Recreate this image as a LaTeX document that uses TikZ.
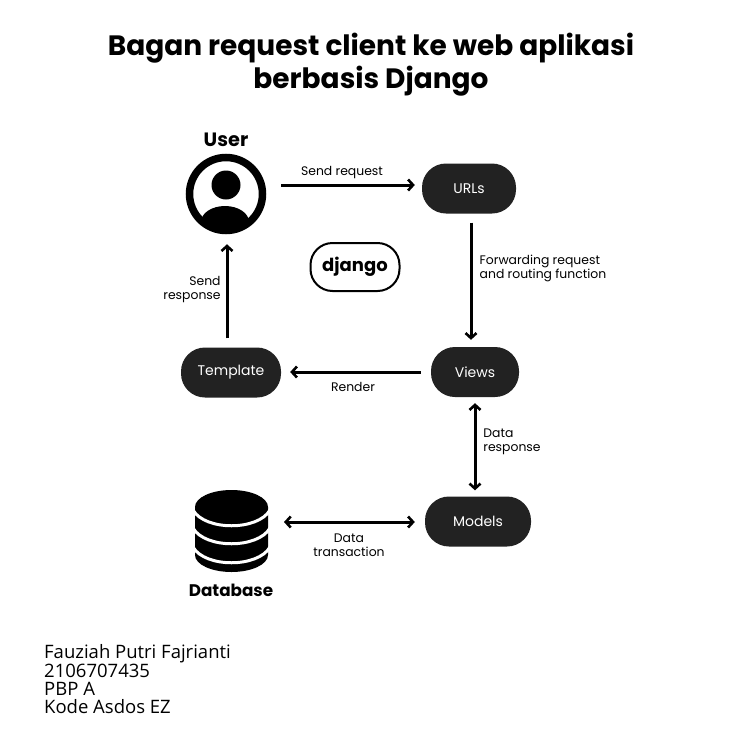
\documentclass[tikz,border=0pt]{standalone}
\usepackage{fontspec}
\setmainfont{Open Sans}
\newfontfamily\pop{Poppins}
\usetikzlibrary{arrows.meta,calc}
\definecolor{pill}{HTML}{222222}
\tikzset{
 pillbox/.style={draw=none,fill=pill,rounded corners=24pt,text=white,font=\pop\fontsize{14}{16}\selectfont,minimum height=50pt,inner sep=0pt},
 lab/.style={font=\pop\fontsize{12.4}{14}\selectfont,text=black,inner sep=0pt,align=center},
 head/.style={font=\pop\bfseries\fontsize{19.3}{22}\selectfont,text=black,inner sep=0pt},
 conn/.style={draw=black,line width=3pt,-{Straight Barb[length=5pt,width=11pt,line width=2.6pt]}},
 conn2/.style={draw=black,line width=3pt,{Straight Barb[length=5pt,width=11pt,line width=2.6pt]}-{Straight Barb[length=5pt,width=11pt,line width=2.6pt]}},
}
\begin{document}
\begin{tikzpicture}[x=1pt,y=-1pt]
\useasboundingbox[fill=white] (0,0) rectangle (750,750);
\node[font=\pop\bfseries\fontsize{28}{33}\selectfont,align=center,inner sep=0pt] (title) at (371,65) {Bagan request client ke web aplikasi\\berbasis Django};
\node[head] (userlabel) at (226,140) {User};
% user icon
\node[circle,draw=black,line width=7.5pt,minimum size=73pt,inner sep=0pt] (user) at (226,194) {};
\fill (226,185) circle (14.5pt);
\begin{scope}
\clip (226,194) circle (37pt);
\fill (225,222) ellipse (24pt and 16pt);
\fill (201,222) rectangle (249,240);
\end{scope}
\node[pillbox,minimum width=94pt] (urls) at (469,188.5) {URLs};
\node[pillbox,minimum width=88pt] (views) at (475,372) {Views};
\node[pillbox,minimum width=100pt] (template) at (231,372.5) {Template};
\node[pillbox,minimum width=106pt] (models) at (478,521.5) {Models};
\node[draw=black,line width=2pt,rounded corners=22pt,minimum width=89pt,minimum height=48pt,inner sep=0pt,font=\pop\bfseries\fontsize{18}{22}\selectfont] (django) at (355,267) {django};
% database icon
\coordinate (db) at (232,522);
\fill (195,507) arc[start angle=180,end angle=360,x radius=36.5pt,y radius=-17pt] -- (268,555) arc[start angle=0,end angle=180,x radius=36.5pt,y radius=-17pt] -- cycle;
\foreach \yy in {510,528,547}{
 \draw[white,line width=3pt] (193,\yy) .. controls (205,\yy+21) and (258,\yy+21) .. (270,\yy);
}
\node[head,font=\pop\bfseries\fontsize{16.8}{20}\selectfont] (dblabel) at (231,590) {Database};
% connectors
\draw[conn,shorten <=15pt,shorten >=7pt] (user.east |- urls) ++(0,-3.5) coordinate (a1) (a1) -- (urls.west |- a1);
\draw[conn,shorten <=9pt,shorten >=7pt] ([xshift=2pt]urls.south) -- ([xshift=-4pt]views.north);
\draw[conn,shorten <=10pt,shorten >=9pt] (views.west) -- (template.east |- views);
\draw[conn,shorten <=9pt,shorten >=10pt] ([xshift=-4pt]template.north) -- ([xshift=1pt]user.south);
\draw[conn2,shorten <=6pt,shorten >=6pt] (views.south) -- (views.south |- models.north);
\draw[conn2,shorten <=15pt,shorten >=10pt] (269,522) coordinate (dbe) -- (models.west |- dbe);
% labels
\node[lab] (l1) at (342,173) {Send request};
\node[lab,align=left] (l2) at (543,268) {Forwarding request\\and routing function};
\node[lab,align=right] (l3) at (192,290) {Send\\response};
\node[lab] (l4) at (353,387) {Render};
\node[lab,align=left] (l5) at (512,441.5) {Data\\response};
\node[lab] (l6) at (349,545) {Data\\transaction};
\node[font=\fontsize{18.5}{17.7}\selectfont,align=left,inner sep=0pt,anchor=north west] (author) at (44,644.5) {Fauziah Putri Fajrianti\\2106707435\\PBP A\\Kode Asdos EZ};
\end{tikzpicture}
\end{document}
